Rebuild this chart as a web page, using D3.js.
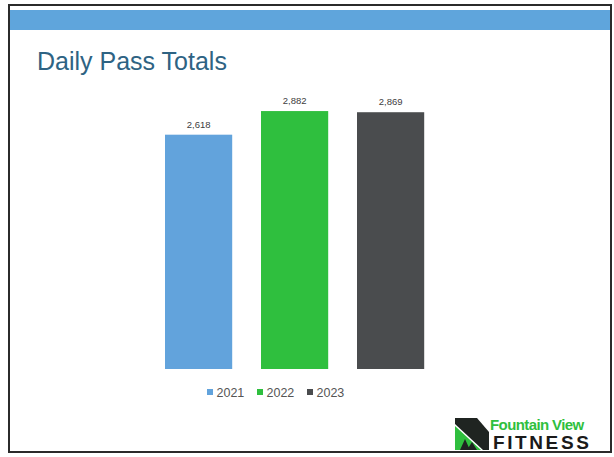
<!DOCTYPE html>
<html>
<head>
<meta charset="utf-8">
<script src="https://cdn.jsdelivr.net/npm/d3@7"></script>
<style>
  body { margin: 0; background: #fff; }
  svg { display: block; font-family: "Liberation Sans", Arial, sans-serif; }
</style>
</head>
<body>
<svg width="614" height="457"></svg>
<script>
const years = ["2021", "2022", "2023"];
const totals = [2618, 2882, 2869];
const colors = ["#62a3dc", "#2fbf3e", "#4a4c4e"];

const svg = d3.select("svg");

// slide frame + header band
svg.append("rect")
  .attr("x", 9).attr("y", 5).attr("width", 602).attr("height", 447)
  .attr("fill", "#fff").attr("stroke", "#2b2b2b").attr("stroke-width", 2);
svg.append("rect")
  .attr("x", 10).attr("y", 10).attr("width", 600).attr("height", 20)
  .attr("fill", "#5fa5dc");

svg.append("text")
  .attr("x", 37).attr("y", 70)
  .attr("font-size", 25)
  .attr("fill", "#2e6383")
  .text("Daily Pass Totals");

const x = d3.scaleBand()
  .domain(years)
  .range([150.6, 438.6])
  .paddingInner(0.3)
  .paddingOuter(0.15);

const y = d3.scaleLinear()
  .domain([0, 3000])
  .range([369, 100.5]);

const data = years.map((yr, i) => ({ year: yr, value: totals[i], color: colors[i] }));

const bars = svg.append("g")
  .selectAll("g")
  .data(data)
  .join("g");

bars.append("rect")
  .attr("x", d => x(d.year))
  .attr("y", d => y(d.value))
  .attr("width", x.bandwidth())
  .attr("height", d => y(0) - y(d.value))
  .attr("fill", d => d.color);

bars.append("text")
  .attr("x", d => x(d.year) + x.bandwidth() / 2)
  .attr("y", d => y(d.value) - 7)
  .attr("text-anchor", "middle")
  .attr("font-size", 9.5)
  .attr("fill", "#404040")
  .text(d => d3.format(",")(d.value));

// legend
const legendX = [207, 257, 307];
const legend = svg.append("g")
  .selectAll("g")
  .data(data)
  .join("g")
  .attr("transform", (d, i) => `translate(${legendX[i]},392)`);

legend.append("rect")
  .attr("x", 0).attr("y", -3)
  .attr("width", 6).attr("height", 6)
  .attr("fill", d => d.color);

legend.append("text")
  .attr("x", 9.5).attr("y", 4.5)
  .attr("font-size", 12.5)
  .attr("fill", "#555")
  .text(d => d.year);

// logo
const logo = svg.append("g").attr("transform", "translate(455,418)");
logo.append("rect").attr("width", 33).attr("height", 32).attr("fill", "#fff");
logo.append("path")
  .attr("d", "M0,0 L22,0 L34,14 L34,32 L28,32 L0,6 Z")
  .attr("fill", "#1f2421");
logo.append("path")
  .attr("d", "M0,8 L26,32 L0,32 Z")
  .attr("fill", "#2fbf3e");
logo.append("path")
  .attr("d", "M5,32 L10,21 L15,32 Z M12,32 L17,24 L22,32 Z")
  .attr("fill", "#1f2421");
svg.append("text")
  .attr("x", 490).attr("y", 430)
  .attr("font-size", 15)
  .attr("font-weight", "bold")
  .attr("letter-spacing", -0.6)
  .attr("fill", "#2fbf3e")
  .text("Fountain View");
svg.append("text")
  .attr("x", 493).attr("y", 449)
  .attr("font-size", 19)
  .attr("font-weight", "bold")
  .attr("letter-spacing", 2.6)
  .attr("fill", "#1a1a1a")
  .text("FITNESS");
</script>
</body>
</html>
